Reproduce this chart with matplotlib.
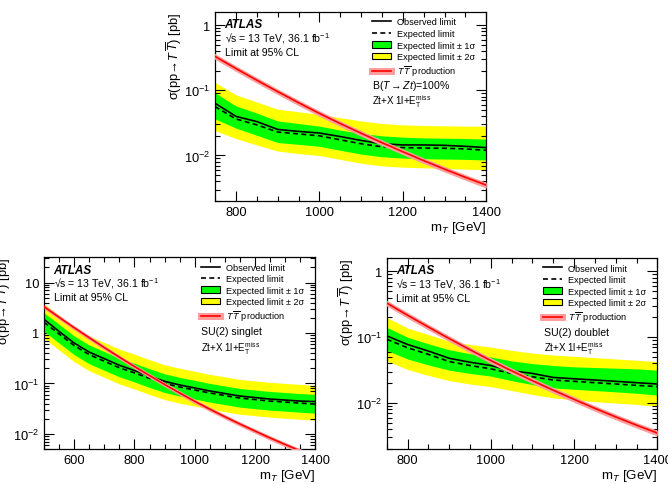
import numpy as np
import matplotlib
matplotlib.use("Agg")
import matplotlib.pyplot as plt
from matplotlib.lines import Line2D
from matplotlib.patches import Patch
from matplotlib.ticker import MultipleLocator, LogLocator, FuncFormatter, NullFormatter

plt.rcParams['font.family'] = ['Liberation Sans', 'DejaVu Sans']
plt.rcParams['mathtext.fontset'] = 'custom'
plt.rcParams['mathtext.rm'] = 'Liberation Sans'
plt.rcParams['mathtext.it'] = 'Liberation Sans:italic'
plt.rcParams['mathtext.bf'] = 'Liberation Sans:bold'

# theory cross-section (pb), 500..1400 GeV in 50 GeV steps
mass_theory = [500, 550, 600, 650, 700, 750, 800, 850, 900, 950, 1000,
               1050, 1100, 1150, 1200, 1250, 1300, 1350, 1400]
xsec_theory = [3.31, 2.04, 1.27, 0.804, 0.513, 0.331, 0.216, 0.143, 0.0955, 0.0646,
               0.0442, 0.0309, 0.0219, 0.0157, 0.0114, 0.00832, 0.00617, 0.00462, 0.00351]

# B(T->Zt)=100%
mass_zt = [750, 800, 850, 900, 950, 1000, 1050, 1100, 1150, 1200, 1250, 1300, 1350, 1400]
obs_zt = [0.0631, 0.0398, 0.0331, 0.0251, 0.0234, 0.0221, 0.0195, 0.0170, 0.0151, 0.0145,
          0.0145, 0.0143, 0.0138, 0.0132]
exp_zt = [0.0562, 0.0363, 0.0295, 0.0229, 0.0214, 0.0200, 0.0174, 0.0151, 0.0136, 0.0132,
          0.0130, 0.0129, 0.0126, 0.0120]
p1_zt = [0.0912, 0.0575, 0.0447, 0.0339, 0.0309, 0.0282, 0.0245, 0.0219, 0.0200, 0.0191,
         0.0186, 0.0184, 0.0182, 0.0178]
m1_zt = [0.0363, 0.0263, 0.0204, 0.0158, 0.0148, 0.0138, 0.0120, 0.0105, 0.00955, 0.00912,
         0.00891, 0.00881, 0.00871, 0.00851]
p2_zt = [0.132, 0.0851, 0.0661, 0.0513, 0.0468, 0.0427, 0.0380, 0.0339, 0.0309, 0.0295,
         0.0288, 0.0285, 0.0282, 0.0282]
m2_zt = [0.0240, 0.0182, 0.0145, 0.0117, 0.0107, 0.0100, 0.00871, 0.00759, 0.00692, 0.00661,
         0.00646, 0.00631, 0.00617, 0.00603]

# SU(2) singlet
mass_sing = [500, 550, 600, 650, 700, 750, 800, 850, 900, 950, 1000,
             1050, 1100, 1150, 1200, 1250, 1300, 1350, 1400]
obs_sing = [1.86, 1.07, 0.631, 0.417, 0.309, 0.229, 0.180, 0.140, 0.110, 0.0933, 0.0813,
            0.0708, 0.0631, 0.0562, 0.0525, 0.0490, 0.0468, 0.0447, 0.0437]
exp_sing = [1.62, 0.955, 0.562, 0.372, 0.275, 0.204, 0.162, 0.126, 0.100, 0.0851, 0.0741,
            0.0646, 0.0575, 0.0513, 0.0479, 0.0447, 0.0427, 0.0407, 0.0389]
p1_sing = [2.51, 1.48, 0.871, 0.575, 0.427, 0.316, 0.251, 0.195, 0.155, 0.132, 0.115,
           0.100, 0.0891, 0.0794, 0.0741, 0.0692, 0.0661, 0.0631, 0.0603]
m1_sing = [1.07, 0.631, 0.372, 0.245, 0.182, 0.135, 0.107, 0.0832, 0.0661, 0.0562, 0.0490,
           0.0427, 0.0380, 0.0339, 0.0316, 0.0295, 0.0282, 0.0269, 0.0257]
p2_sing = [3.80, 2.24, 1.32, 0.871, 0.646, 0.479, 0.380, 0.295, 0.234, 0.200, 0.174,
           0.151, 0.135, 0.120, 0.112, 0.105, 0.100, 0.0955, 0.0912]
m2_sing = [0.776, 0.457, 0.269, 0.178, 0.132, 0.0977, 0.0776, 0.0603, 0.0479, 0.0407, 0.0355,
           0.0309, 0.0275, 0.0245, 0.0229, 0.0214, 0.0204, 0.0195, 0.0186]

# SU(2) doublet
mass_doub = [750, 800, 850, 900, 950, 1000, 1050, 1100, 1150, 1200, 1250, 1300, 1350, 1400]
obs_doub = [0.105, 0.0776, 0.0617, 0.0479, 0.0417, 0.0372, 0.0309, 0.0282, 0.0245, 0.0234,
            0.0224, 0.0214, 0.0204, 0.0195]
exp_doub = [0.0933, 0.0692, 0.0550, 0.0427, 0.0372, 0.0331, 0.0282, 0.0251, 0.0224, 0.0214,
            0.0204, 0.0195, 0.0186, 0.0178]
p1_doub = [0.141, 0.100, 0.0794, 0.0646, 0.0562, 0.0501, 0.0437, 0.0398, 0.0372, 0.0355,
           0.0347, 0.0339, 0.0331, 0.0316]
m1_doub = [0.0631, 0.0468, 0.0380, 0.0316, 0.0282, 0.0257, 0.0219, 0.0191, 0.0170, 0.0162,
           0.0155, 0.0148, 0.0141, 0.0132]
p2_doub = [0.200, 0.138, 0.110, 0.0871, 0.0776, 0.0708, 0.0631, 0.0575, 0.0537, 0.0513,
           0.0490, 0.0468, 0.0447, 0.0427]
m2_doub = [0.0437, 0.0324, 0.0263, 0.0219, 0.0195, 0.0178, 0.0155, 0.0135, 0.0120, 0.0112,
           0.0105, 0.0100, 0.00955, 0.00891]

GREEN = '#00ff00'
YELLOW = '#ffff00'
RED = '#ff0000'
PINK = '#ff9c9c'
FS_TICK = 9.3
FS_LEG = 6.6
FS_TXT = 7.6


def ylab(v, pos):
    if abs(v - 1) < 1e-9:
        return '1'
    if abs(v - 10) < 1e-9:
        return '10'
    e = int(round(np.log10(v)))
    return r'$10^{%d}$' % e


def panel(ax, mass, obs, exp, p1, m1, p2, m2, xlim, ylim, model):
    ax.fill_between(mass, m2, p2, color=YELLOW, lw=0, zorder=1)
    ax.fill_between(mass, m1, p1, color=GREEN, lw=0, zorder=2)
    ax.plot(mass, exp, color='black', ls=(0, (3, 2)), lw=1.2, zorder=3)
    ax.plot(mass, obs, color='black', lw=1.2, zorder=4)
    th = np.array(xsec_theory)
    ax.fill_between(mass_theory, th * 0.9, th * 1.1, color=PINK, lw=0, zorder=5)
    ax.plot(mass_theory, th, color=RED, lw=1.2, zorder=6)

    ax.set_yscale('log')
    ax.set_xlim(*xlim)
    ax.set_ylim(*ylim)
    ax.xaxis.set_major_locator(MultipleLocator(200))
    ax.xaxis.set_minor_locator(MultipleLocator(50))
    ax.yaxis.set_major_locator(LogLocator(base=10, numticks=10))
    ax.yaxis.set_minor_locator(LogLocator(base=10, subs=np.arange(2, 10), numticks=20))
    ax.yaxis.set_major_formatter(FuncFormatter(ylab))
    ax.yaxis.set_minor_formatter(NullFormatter())
    ax.tick_params(which='both', direction='in', top=True, right=True, labelsize=FS_TICK)
    ax.tick_params(which='major', length=7, width=0.8)
    ax.tick_params(which='minor', length=3.5, width=0.8)
    for s in ax.spines.values():
        s.set_linewidth(0.9)

    ax.set_xlabel(r'm$_{T}$ [GeV]', fontsize=FS_TICK + 0.3, loc='right', labelpad=1)
    ax.set_ylabel('σ(pp→$T\\,\\overline{T}$) [pb]', fontsize=FS_TICK,
                  loc='top', labelpad=0)

    tr = ax.transAxes
    ax.text(0.035, 0.935, 'ATLAS', transform=tr, fontsize=8.5, fontweight='bold',
            fontstyle='italic', va='center')
    ax.text(0.035, 0.865, '√s = 13 TeV, 36.1 fb$^{-1}$', transform=tr,
            fontsize=FS_TXT, va='center')
    ax.text(0.035, 0.79, 'Limit at 95% CL', transform=tr, fontsize=FS_TXT, va='center')

    handles = [
        Line2D([], [], color='black', lw=1.2),
        Line2D([], [], color='black', lw=1.2, ls=(0, (3, 2))),
        Patch(facecolor=GREEN, edgecolor='black', lw=0.8),
        Patch(facecolor=YELLOW, edgecolor='black', lw=0.8),
        (Line2D([], [], color=PINK, lw=5), Line2D([], [], color=RED, lw=1.2)),
    ]
    labels = ['Observed limit', 'Expected limit', 'Expected limit ± 1σ',
              'Expected limit ± 2σ', r'$T\,\overline{T}$ production']
    ax.legend(handles, labels, loc='upper left', bbox_to_anchor=(0.575, 0.975),
              frameon=False, fontsize=FS_LEG, handlelength=2.1, handleheight=0.7,
              handletextpad=0.6, labelspacing=0.28, borderaxespad=0, borderpad=0.1)
    ax.text(0.58, 0.615, model, transform=tr, fontsize=FS_TXT, va='center')
    ax.text(0.58, 0.53, r'Zt+X 1l+E$_{\mathrm{T}}^{\mathrm{miss}}$', transform=tr,
            fontsize=FS_TXT - 0.6, va='center')


fig = plt.figure(figsize=(6.68, 4.85), dpi=100)
ax_top = fig.add_axes([0.322, 0.5835, 0.406, 0.39])
ax_bl = fig.add_axes([0.066, 0.072, 0.406, 0.396])
ax_br = fig.add_axes([0.579, 0.072, 0.405, 0.394])

panel(ax_top, mass_zt, obs_zt, exp_zt, p1_zt, m1_zt, p2_zt, m2_zt,
      (750, 1400), (0.002, 1.6), r'B($T\rightarrow Zt$)=100%')
panel(ax_bl, mass_sing, obs_sing, exp_sing, p1_sing, m1_sing, p2_sing, m2_sing,
      (500, 1400), (0.005, 32), 'SU(2) singlet')
panel(ax_br, mass_doub, obs_doub, exp_doub, p1_doub, m1_doub, p2_doub, m2_doub,
      (750, 1400), (0.002, 1.6), 'SU(2) doublet')

fig.savefig('out.png', dpi=100)
